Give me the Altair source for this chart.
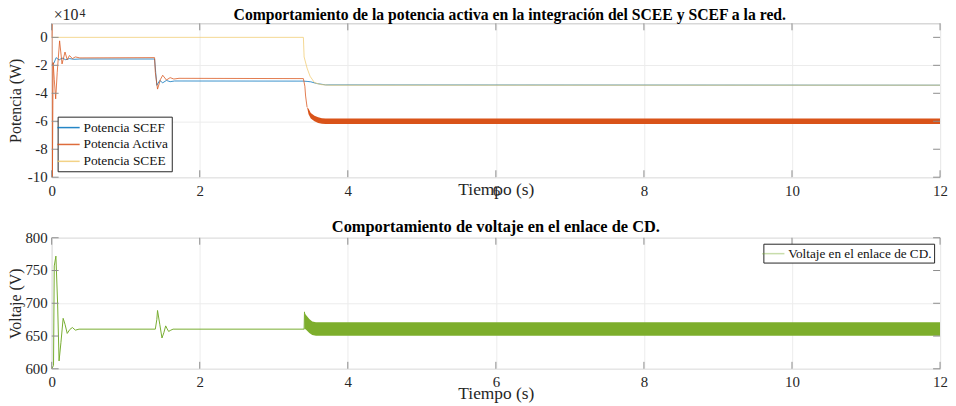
import altair as alt
import pandas as pd

# ---------------- data ----------------
# Top panel: power in W
t_scef = [0.0, 0.03, 0.06, 0.10, 0.14, 0.19, 0.24, 0.30, 0.38, 1.39, 1.405, 1.42, 1.46, 1.50,
          1.55, 1.60, 1.66, 3.40, 3.45, 3.50, 3.58, 3.70, 12.0]
p_scef = [-19500, -18500, -14500, -16200, -14800, -16000, -15200, -15700, -15500, -15500, -25000,
          -34300, -30800, -32500, -30800, -31700, -31200, -31300, -31500, -31800, -33000, -34000, -34200]

t_act = [0.0, 0.004, 0.010, 0.020, 0.035, 0.054, 0.075, 0.107, 0.14, 0.18, 0.21, 0.24, 0.28,
         0.32, 0.38, 1.39, 1.40, 1.43, 1.47, 1.50, 1.55, 1.60, 1.65, 1.72, 3.40, 3.42, 3.43, 3.45]
p_act = [0, 9500, -100000, -18000, -30000, -44000, -25000, -2500, -19000, -10500, -16000, -13000,
         -15200, -14000, -14700, -14500, -25000, -37000, -30000, -27100, -30500, -28800, -29800,
         -29300, -29500, -35000, -42000, -50000]

t_scee = [0.0, 3.40, 3.41, 3.45, 3.49, 3.55, 3.64, 3.75, 12.0]
p_scee = [0, 0, -14000, -22000, -27800, -32400, -33800, -34200, -34200]

band_t_act = [3.45, 3.47, 3.50, 3.55, 3.60, 3.65, 3.70, 3.80, 4.00, 12.0]
band_hi_act = [-50000, -51000, -54000, -56000, -57200, -57800, -58000, -58000, -58000, -58000]
band_lo_act = [-50000, -55000, -58000, -60000, -61200, -61800, -62000, -62000, -62000, -62000]

# Bottom panel: DC-link voltage in V
t_volt = [0.0, 0.025, 0.035, 0.057, 0.08, 0.10, 0.125, 0.155, 0.18, 0.21, 0.245, 0.28, 0.32, 0.37,
          1.40, 1.42, 1.43, 1.46, 1.49, 1.515, 1.54, 1.56, 1.58, 1.61, 1.64, 3.41, 3.415]
v_volt = [600, 605, 757, 772, 700, 612, 640, 677, 668, 654, 660, 663, 659, 660.5,
          660.5, 675, 689, 668, 647, 655, 665.5, 661, 657, 659, 660.5, 660.5, 687]

band_t_volt = [3.415, 3.43, 3.48, 3.52, 3.57, 3.65, 12.0]
band_hi_volt = [687, 683, 676, 672, 671, 671, 671]
band_lo_volt = [660.5, 660.5, 654.5, 651.5, 650.5, 650.5, 650.5]

x_ticks = [0, 2, 4, 6, 8, 10, 12]
p_ticks = [-100000, -80000, -60000, -40000, -20000, 0]
p_tick_labels = ["-10", "-8", "-6", "-4", "-2", "0"]
v_ticks = [600, 650, 700, 750, 800]
v_tick_labels = ["600", "650", "700", "750", "800"]

series_top = ["Potencia SCEF", "Potencia Activa", "Potencia SCEE"]
colors_top = ["#0072BD", "#D95319", "#F1CB72"]
series_bot = ["Voltaje en el enlace de CD."]
colors_bot = ["#77AC30"]

title_top = ["Comportamiento de la potencia activa en la integración del SCEE y SCEF a la red."]
title_bot = "Comportamiento de voltaje en el enlace de CD."
x_title = "Tiempo (s)"
exp_base = ["×10"]
exp_power = ["4"]

# ---------------- tables ----------------
df_top = pd.concat([
    pd.DataFrame({"t": t_scef, "v": p_scef, "serie": series_top[0]}),
    pd.DataFrame({"t": t_act, "v": p_act, "serie": series_top[1]}),
    pd.DataFrame({"t": t_scee, "v": p_scee, "serie": series_top[2]}),
], ignore_index=True)
df_band_top = pd.DataFrame({"t": band_t_act, "hi": band_hi_act, "lo": band_lo_act})
df_bot = pd.DataFrame({"t": t_volt, "v": v_volt, "serie": series_bot[0]})
df_band_bot = pd.DataFrame({"t": band_t_volt, "hi": band_hi_volt, "lo": band_lo_volt})

W = 895
H_TOP = 155
H_BOT = 132
FONT = "Liberation Serif"
TICK_COLOR = "#8c8c8c"
LABEL_COLOR = "#262626"
LEG_SYMBOL = "M-1.6,0H1.6"

xscale = alt.Scale(domain=[0, 12], nice=False, zero=False)


def x_enc(axis=True, title_y=3):
    if axis:
        return alt.X("t:Q", scale=xscale,
                     axis=alt.Axis(values=x_ticks, format="d", title=x_title, titleY=title_y,
                                   titleBaseline="top", labelFlush=False, labelOverlap=False))
    return alt.X("t:Q", scale=xscale)


def inner_ticks(yscale, yvals, height):
    xt = pd.DataFrame({"t": x_ticks})
    yt = pd.DataFrame({"v": yvals})
    top_t = alt.Chart(xt).mark_rule(color=TICK_COLOR, strokeWidth=1).encode(
        x=alt.X("t:Q", scale=xscale), y=alt.value(0), y2=alt.value(7))
    bot_t = alt.Chart(xt).mark_rule(color=TICK_COLOR, strokeWidth=1).encode(
        x=alt.X("t:Q", scale=xscale), y=alt.value(height - 7), y2=alt.value(height))
    left_t = alt.Chart(yt).mark_rule(color=TICK_COLOR, strokeWidth=1).encode(
        y=alt.Y("v:Q", scale=yscale), x=alt.value(0), x2=alt.value(7))
    right_t = alt.Chart(yt).mark_rule(color=TICK_COLOR, strokeWidth=1).encode(
        y=alt.Y("v:Q", scale=yscale), x=alt.value(W - 7), x2=alt.value(W))
    return [top_t, bot_t, left_t, right_t]


def y_labels(yscale, yvals, labels):
    df = pd.DataFrame({"v": yvals, "lbl": labels})
    return alt.Chart(df).mark_text(font=FONT, fontSize=15, align="right", baseline="middle",
                                   color=LABEL_COLOR).encode(
        y=alt.Y("v:Q", scale=yscale), x=alt.value(-4), text="lbl:N")


# ---------------- top panel ----------------
yscale_top = alt.Scale(domain=[-100000, 10000], nice=False, zero=False)

lines_top = alt.Chart(df_top).mark_line(strokeWidth=0.9, clip=True).encode(
    x=x_enc(True, 3),
    y=alt.Y("v:Q", scale=yscale_top,
            axis=alt.Axis(values=p_ticks, labels=False, title="Potencia (W)", titlePadding=28)),
    color=alt.Color("serie:N", sort=series_top,
                    scale=alt.Scale(domain=series_top, range=colors_top),
                    legend=alt.Legend(title=None, orient="bottom-left", offset=6,
                                      fillColor="white", strokeColor="#262626",
                                      padding=3, symbolType=LEG_SYMBOL, symbolSize=196,
                                      symbolStrokeWidth=1.5, symbolOpacity=0.5,
                                      labelFont=FONT, labelFontSize=13.5,
                                      labelColor="#111111", rowPadding=2,
                                      labelOffset=7, cornerRadius=0)),
    opacity=alt.Opacity("serie:N", scale=alt.Scale(domain=series_top, range=[0.85, 0.85, 1.0]),
                        legend=None),
    detail="serie:N",
)

band_top = alt.Chart(df_band_top).mark_area(color="#D95319", opacity=1, clip=True).encode(
    x=x_enc(False), y=alt.Y("hi:Q", scale=yscale_top), y2="lo:Q")

exp_lbl = alt.Chart(pd.DataFrame({"txt": exp_base})).mark_text(
    font=FONT, fontSize=16, align="left", baseline="alphabetic", color=LABEL_COLOR).encode(
    text="txt:N", x=alt.value(2), y=alt.value(-3))
exp_pow = alt.Chart(pd.DataFrame({"txt": exp_power})).mark_text(
    font=FONT, fontSize=12, align="left", baseline="alphabetic", color=LABEL_COLOR).encode(
    text="txt:N", x=alt.value(28), y=alt.value(-6))

ttl_df = pd.DataFrame({"txt": title_top})
ttl_lbl = alt.Chart(ttl_df).mark_text(font=FONT, fontSize=15.8, fontWeight="bold", align="center",
                                      baseline="alphabetic", color="#000000").encode(
    text="txt:N", x=alt.value(W / 2 + 14), y=alt.value(-3))

top = alt.layer(lines_top, band_top, *inner_ticks(yscale_top, p_ticks, H_TOP),
                y_labels(yscale_top, p_ticks, p_tick_labels),
                exp_lbl, exp_pow, ttl_lbl).properties(width=W, height=H_TOP)

# ---------------- bottom panel ----------------
yscale_bot = alt.Scale(domain=[600, 800], nice=False, zero=False)

line_bot = alt.Chart(df_bot).mark_line(strokeWidth=1, clip=True).encode(
    x=x_enc(True, 16),
    y=alt.Y("v:Q", scale=yscale_bot,
            axis=alt.Axis(values=v_ticks, labels=False, title="Voltaje (V)", titlePadding=28)),
    color=alt.Color("serie:N", scale=alt.Scale(domain=series_bot, range=colors_bot),
                    legend=alt.Legend(title=None, orient="top-right", offset=6,
                                      fillColor="white", strokeColor="#262626",
                                      padding=2, symbolType=LEG_SYMBOL, symbolSize=196,
                                      symbolStrokeWidth=1.5, symbolOpacity=0.4,
                                      labelFont=FONT, labelFontSize=13.3,
                                      labelColor="#111111", labelOffset=7)),
)

band_bot = alt.Chart(df_band_bot).mark_area(color="#7DAE2C", opacity=1, clip=True).encode(
    x=x_enc(False), y=alt.Y("hi:Q", scale=yscale_bot), y2="lo:Q")

bottom = alt.layer(line_bot, band_bot, *inner_ticks(yscale_bot, v_ticks, H_BOT),
                   y_labels(yscale_bot, v_ticks, v_tick_labels)).properties(
    width=W, height=H_BOT,
    title=alt.TitleParams(title_bot, font=FONT, fontSize=16.5, fontWeight="bold",
                          anchor="middle", offset=-5, color="#000000"))

chart = alt.vconcat(top, bottom, spacing=20).resolve_scale(
    color="independent", opacity="independent").properties(
    padding={"left": -1, "top": -3, "right": 0, "bottom": 0}
).configure_view(stroke="#c4c4c4", strokeWidth=1).configure_axis(
    labelFont=FONT, labelFontSize=15, labelColor=LABEL_COLOR,
    titleFont=FONT, titleFontSize=16, titleColor=LABEL_COLOR, titleFontWeight="normal",
    grid=True, gridColor="#ececec", gridWidth=1, ticks=False, domain=False,
    labelPadding=3,
).configure_axisX(labelPadding=6, titleFontSize=17.5)

chart.save("out.html", embed_options={"renderer": "svg", "actions": False})
